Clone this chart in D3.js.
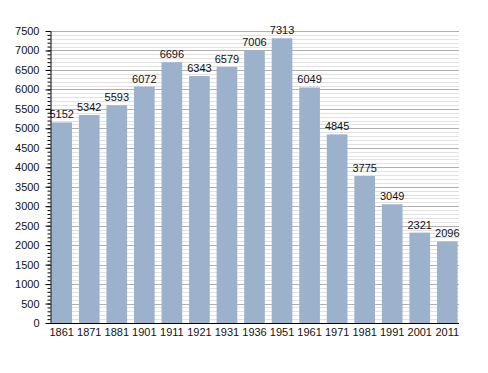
<!DOCTYPE html>
<html>
<head>
<meta charset="utf-8">
<script src="https://cdn.jsdelivr.net/npm/d3@7"></script>
<style>
  body { margin: 0; background: #fff; }
  text { font-family: "Liberation Sans", Arial, sans-serif; }
</style>
</head>
<body>
<div id="chart"></div>
<script>
// census years and population
const years = ['1861', '1871', '1881', '1901', '1911', '1921', '1931', '1936', '1951', '1961', '1971', '1981', '1991', '2001', '2011'];
const population = [5152, 5342, 5593, 6072, 6696, 6343, 6579, 7006, 7313, 6049, 4845, 3775, 3049, 2321, 2096];
const yTicks = d3.range(0, 7501, 500);
const yMinor = d3.range(0, 7501, 100);

const width = 488;
const height = 373;
const plotLeft = 50, plotRight = 459, plotTop = 31, plotBottom = 323;

const svg = d3.select('#chart')
  .append('svg')
  .attr('width', width)
  .attr('height', height);

const scaleX = d3.scaleBand()
  .domain(years)
  .range([plotLeft, plotRight])
  .paddingInner(0.25)
  .paddingOuter(0.05);

const scaleY = d3.scaleLinear()
  .domain([0, 7500])
  .range([plotBottom, plotTop]);

// grid lines: minor every 100, major every 500
const grid = svg.append('g').attr('class', 'grid');
grid.selectAll('.minor')
  .data(yMinor.filter(v => v % 500 !== 0))
  .enter()
  .append('line')
  .attr('x1', plotLeft).attr('x2', plotRight)
  .attr('y1', d => Math.round(scaleY(d)) + 0.5)
  .attr('y2', d => Math.round(scaleY(d)) + 0.5)
  .attr('stroke', '#e2e2e2');
grid.selectAll('.major')
  .data(yTicks.filter(v => v > 0))
  .enter()
  .append('line')
  .attr('x1', plotLeft).attr('x2', plotRight)
  .attr('y1', d => Math.round(scaleY(d)) + 0.5)
  .attr('y2', d => Math.round(scaleY(d)) + 0.5)
  .attr('stroke', '#b0b0b0');

// bars
svg.selectAll('.bar')
  .data(population)
  .enter()
  .append('rect')
  .attr('class', 'bar')
  .attr('x', (d, i) => scaleX(years[i]))
  .attr('y', d => scaleY(d))
  .attr('width', scaleX.bandwidth())
  .attr('height', d => plotBottom - scaleY(d))
  .attr('fill', '#9bb1cc');

// value labels
svg.selectAll('.value')
  .data(population)
  .enter()
  .append('text')
  .attr('x', (d, i) => scaleX(years[i]) + scaleX.bandwidth() / 2)
  .attr('y', d => scaleY(d) - 4)
  .attr('text-anchor', 'middle')
  .attr('font-size', '11px')
  .attr('fill', '#111')
  .text(d => d);

// y axis with minor ticks
const axisYMinor = d3.axisLeft(scaleY).tickValues(yMinor).tickSize(3).tickFormat('');
svg.append('g')
  .attr('transform', `translate(${plotLeft + 0.5}, 0)`)
  .call(axisYMinor)
  .call(g => g.select('.domain').remove())
  .call(g => g.selectAll('line').attr('stroke', '#000'));

const axisY = d3.axisLeft(scaleY).tickValues(yTicks).tickSize(5).tickPadding(6)
  .tickSizeOuter(0).tickFormat(d3.format('d'));
svg.append('g')
  .attr('transform', `translate(${plotLeft + 0.5}, 0)`)
  .call(axisY)
  .call(g => g.selectAll('text').attr('font-size', '11px').attr('fill', '#111'))
  .call(g => g.select('.domain').attr('stroke', '#000'));

// x axis
const axisX = d3.axisBottom(scaleX).tickSize(0).tickPadding(5).tickSizeOuter(0);
svg.append('g')
  .attr('transform', `translate(0, ${plotBottom + 0.5})`)
  .call(axisX)
  .call(g => g.selectAll('text').attr('font-size', '11px').attr('fill', '#111'))
  .call(g => g.select('.domain').attr('stroke', '#000').attr('d', `M${plotLeft},0H${plotRight}`));
</script>
</body>
</html>
